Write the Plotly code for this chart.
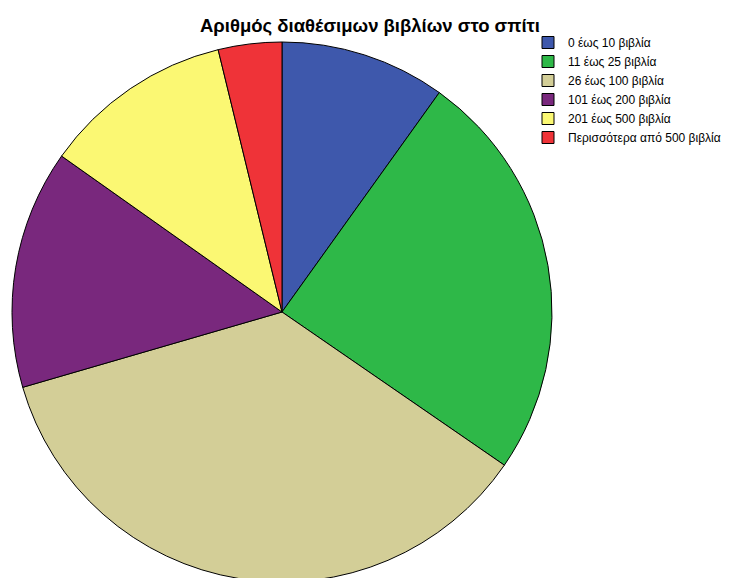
import plotly.graph_objects as go

categories = ["0 έως 10 βιβλία", "11 έως 25 βιβλία", "26 έως 100 βιβλία",
              "101 έως 200 βιβλία", "201 έως 500 βιβλία", "Περισσότερα από 500 βιβλία"]
values = [9.9, 24.7, 35.9, 14.3, 11.4, 3.8]
colors = ["#3E58AC", "#2EB848", "#D3CE97", "#79287D", "#FBF873", "#EF3338"]

# figure coords (page body adds an 8px offset)
W, H = 732, 578
cx, cy, r = 274, 304, 270

fig = go.Figure(go.Pie(
    labels=categories,
    values=values,
    sort=False,
    direction="clockwise",
    rotation=0,
    textinfo="none",
    marker=dict(colors=colors, line=dict(color="black", width=1)),
    domain=dict(x=[(cx - r) / W, (cx + r) / W], y=[(H - cy - r) / H, (H - cy + r) / H]),
))

fig.update_layout(
    width=W, height=H,
    margin=dict(l=0, r=0, t=0, b=0),
    paper_bgcolor="white",
    title=dict(text="<b>Αριθμός διαθέσιμων βιβλίων στο σπίτι</b>",
               x=362 / W, xanchor="center", y=1 - 18 / H, yanchor="middle",
               font=dict(family="Liberation Sans, Arial", size=18.5, color="black")),
    legend=dict(x=520 / W, xanchor="left", y=1 - 20 / H, yanchor="top",
                font=dict(family="Liberation Sans, Arial", size=12, color="black"),
                bgcolor="rgba(0,0,0,0)", itemwidth=30),
)

fig.write_html("out.html")
